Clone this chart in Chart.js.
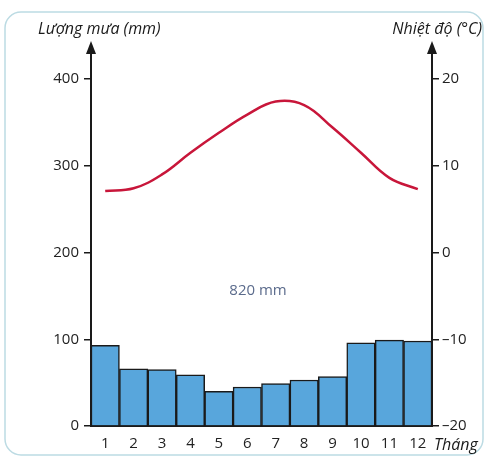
<!DOCTYPE html>
<html>
<head>
<meta charset="utf-8">
<script src="https://cdn.jsdelivr.net/npm/chart.js@4"></script>
<style>
  body { margin: 0; background: #fff; }
  canvas { display: block; }
</style>
</head>
<body>
<canvas id="chart" width="504" height="464"></canvas>
<script>
const months = ["1", "2", "3", "4", "5", "6", "7", "8", "9", "10", "11", "12"];
const rainfall = [93, 66, 65, 59, 40, 45, 49, 53, 57, 96, 99, 98];
const temperature = [7.1, 7.4, 9.0, 11.5, 13.8, 15.9, 17.4, 17.0, 14.4, 11.5, 8.6, 7.3];
const rainTicks = [0, 100, 200, 300, 400];
const tempTicks = [-20, -10, 0, 10, 20];
const totalLabel = "820 mm";

const tickFont = { size: 15, family: "'Open Sans', sans-serif" };

// frame, arrows and loose texts around the plot
const decorations = {
  id: "decorations",
  afterDraw(chart) {
    const ctx = chart.ctx;
    const area = chart.chartArea;
    ctx.save();

    // rounded frame
    ctx.strokeStyle = "#bcdbe3";
    ctx.lineWidth = 1.5;
    ctx.beginPath();
    ctx.roundRect(5, 12, 478, 443, 16);
    ctx.stroke();

    // axis arrows
    ctx.strokeStyle = "#1a1a1a";
    ctx.fillStyle = "#1a1a1a";
    ctx.lineWidth = 2;
    [area.left, area.right].forEach(x => {
      ctx.beginPath();
      ctx.moveTo(x, area.top);
      ctx.lineTo(x, 50);
      ctx.stroke();
      ctx.beginPath();
      ctx.moveTo(x, 41);
      ctx.lineTo(x - 5, 54);
      ctx.lineTo(x + 5, 54);
      ctx.closePath();
      ctx.fill();
    });

    ctx.fillStyle = "#1a1a1a";
    ctx.font = "italic 16px 'Open Sans', sans-serif";
    ctx.textBaseline = "middle";
    ctx.textAlign = "left";
    ctx.fillText("Lượng mưa (mm)", 38, 29);
    ctx.fillText("Tháng", 434, 445);
    ctx.textAlign = "right";
    ctx.fillText("Nhiệt độ (°C)", 482, 29);

    ctx.fillStyle = "#5b6b8c";
    ctx.font = "15px 'Open Sans', sans-serif";
    ctx.textAlign = "center";
    ctx.fillText(totalLabel, 258, 291);
    ctx.restore();
  }
};

new Chart(document.getElementById("chart"), {
  data: {
    labels: months,
    datasets: [
      {
        type: "line",
        label: "Nhiệt độ",
        data: temperature,
        yAxisID: "y1",
        borderColor: "#c8163a",
        borderWidth: 2.5,
        pointRadius: 0,
        tension: 0.4,
        order: 0
      },
      {
        type: "bar",
        label: "Lượng mưa",
        data: rainfall,
        yAxisID: "y",
        backgroundColor: "#58a6dc",
        borderColor: "#1a1a1a",
        borderWidth: 1.5,
        barPercentage: 1,
        categoryPercentage: 1,
        order: 1
      }
    ]
  },
  options: {
    responsive: false,
    animation: false,
    layout: { padding: { top: 79, left: 0, right: 0, bottom: 0 } },
    plugins: {
      legend: { display: false },
      tooltip: { enabled: false }
    },
    scales: {
      x: {
        grid: { display: false },
        border: { display: true, color: "#1a1a1a", width: 2 },
        ticks: { color: "#222", font: tickFont, padding: 1 },
        afterFit: s => { s.height = 38; }
      },
      y: {
        position: "left",
        min: 0,
        max: 400,
        afterBuildTicks: s => { s.ticks = rainTicks.map(v => ({ value: v })); },
        grid: { drawOnChartArea: false, color: "#1a1a1a", tickLength: 7, lineWidth: 1.5 },
        border: { display: true, color: "#1a1a1a", width: 2 },
        ticks: { color: "#222", font: tickFont, padding: 5 },
        afterFit: s => { s.width = 91; }
      },
      y1: {
        position: "right",
        min: -20,
        max: 20,
        afterBuildTicks: s => { s.ticks = tempTicks.map(v => ({ value: v })); },
        grid: { drawOnChartArea: false, color: "#1a1a1a", tickLength: 7, lineWidth: 1.5 },
        border: { display: true, color: "#1a1a1a", width: 2 },
        ticks: {
          color: "#222",
          font: tickFont,
          padding: 3,
          callback: v => (v < 0 ? "–" + Math.abs(v) : String(v))
        },
        afterFit: s => { s.width = 72; }
      }
    }
  },
  plugins: [decorations]
});
</script>
</body>
</html>
